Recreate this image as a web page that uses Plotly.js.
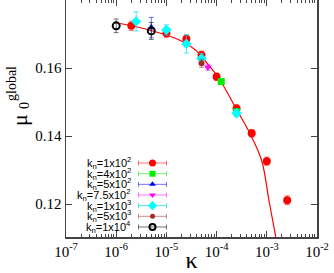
<!DOCTYPE html>
<html>
<head>
<meta charset="utf-8">
<script src="https://cdn.plot.ly/plotly-3.0.1.min.js"></script>
<style>html,body{margin:0;padding:0;background:#fff;}#chart{width:334px;height:273px;}</style>
</head>
<body>
<div id="chart"></div>
<script>
// ---- data ----
const xTickVals = [1e-7, 1e-6, 1e-5, 1e-4, 1e-3, 1e-2];
const xTickText = ['10<sup>-7</sup>', '10<sup>-6</sup>', '10<sup>-5</sup>', '10<sup>-4</sup>', '10<sup>-3</sup>', '10<sup>-2</sup>'];
const yTickVals = [0.12, 0.14, 0.16, 0.18];
const yTickText = ['0.12', '0.14', '0.16', '0.18'];

const fitKappa = [9.55e-7, 3.02e-6, 1.51e-5, 3.8e-5, 6.92e-5, 1.10e-4, 1.74e-4, 2.40e-4, 4.57e-4, 7.94e-4, 1.10e-3, 1.51e-3];
const fitMu    = [0.1733, 0.17185, 0.16874, 0.16529, 0.16088, 0.15706, 0.15206, 0.14824, 0.14088, 0.13265, 0.12118, 0.11029];

const kappa_1e2 = [2e-6, 1e-5, 2.5e-5, 5e-5, 1e-4, 2.5e-4, 5e-4, 1e-3, 2.55e-3];
const mu_1e2    = [0.1724, 0.1702, 0.1685, 0.1638, 0.1574, 0.1481, 0.1408, 0.1326, 0.1211];
const err_1e2   = [0.0014, 0.0012, 0.0012, 0.0012, 0.0011, 0.0011, 0.0011, 0.0012, 0.0013];

const kappa_4e2 = [1.24e-4, 2.5e-4];
const mu_4e2    = [0.1560, 0.1471];
const err_4e2   = [0.0009, 0.0009];

const kappa_5e2 = [5e-6];
const mu_5e2    = [0.1719];
const err_5e2   = [0.0030];

const kappa_75e2 = [6.7e-5];
const mu_75e2    = [0.1602];
const err_75e2   = [0.0009];

const kappa_1e3 = [2.5e-6, 1e-5, 2.5e-5, 5e-5, 2.5e-4];
const mu_1e3    = [0.1737, 0.1712, 0.1671, 0.1628, 0.1467];
const err_1e3   = [0.0028, 0.0015, 0.0027, 0.0015, 0.0010];

const kappa_5e3 = [5e-5];
const mu_5e3    = [0.1614];
const err_5e3   = [0.0012];

const kappa_1e4 = [1e-6, 5e-6];
const mu_1e4    = [0.1724, 0.1709];
const err_1e4   = [0.0020, 0.0025];

const legendLabels = [
  'k<sub>n</sub>=1x10<sup>2</sup>',
  'k<sub>n</sub>=4x10<sup>2</sup>',
  'k<sub>n</sub>=5x10<sup>2</sup>',
  'k<sub>n</sub>=7.5x10<sup>2</sup>',
  'k<sub>n</sub>=1x10<sup>3</sup>',
  'k<sub>n</sub>=5x10<sup>3</sup>',
  'k<sub>n</sub>=1x10<sup>4</sup>'
];

// ---- styles ----
const series = [
  {x: kappa_1e2, y: mu_1e2, e: err_1e2, color: '#ff0000', ecol: 'rgba(255,0,0,0.55)', symbol: 'circle', size: 8, lw: 0},
  {x: kappa_4e2, y: mu_4e2, e: err_4e2, color: '#00ee00', ecol: 'rgba(0,220,0,0.55)', symbol: 'square', size: 7, lw: 0},
  {x: kappa_5e2, y: mu_5e2, e: err_5e2, color: '#0000ff', ecol: 'rgba(0,0,255,0.55)', symbol: 'triangle-up', size: 7, lw: 0},
  {x: kappa_75e2, y: mu_75e2, e: err_75e2, color: '#ff00ff', ecol: 'rgba(255,0,255,0.55)', symbol: 'triangle-down', size: 7, lw: 0},
  {x: kappa_1e3, y: mu_1e3, e: err_1e3, color: '#00ffff', ecol: 'rgba(0,220,230,0.7)', symbol: 'diamond', size: 8, lw: 0},
  {x: kappa_5e3, y: mu_5e3, e: err_5e3, color: '#a52a2a', ecol: 'rgba(165,42,42,0.55)', symbol: 'circle', size: 6, lw: 0},
  {x: kappa_1e4, y: mu_1e4, e: err_1e4, color: '#000000', ecol: 'rgba(0,0,0,0.55)', symbol: 'circle-open', size: 7, lw: 2}
];

const traces = [];
traces.push({
  x: fitKappa, y: fitMu, type: 'scatter', mode: 'lines',
  line: {color: '#ff0000', width: 1.2, shape: 'spline'},
  showlegend: false, hoverinfo: 'skip'
});
series.forEach(function (s) {
  traces.push({
    x: s.x, y: s.y, type: 'scatter', mode: 'markers',
    marker: {color: s.color, symbol: s.symbol, size: s.size, line: {color: s.color, width: s.lw}},
    error_y: {type: 'data', array: s.e, visible: true, color: s.ecol, thickness: 1, width: 2.5},
    showlegend: false
  });
});
// legend keys, one row per series (index -> row) on an auxiliary axis
series.forEach(function (s, i) {
  traces.push({
    x: [0], y: [i], xaxis: 'x2', yaxis: 'y2', type: 'scatter', mode: 'markers',
    marker: {color: s.color, symbol: s.symbol, size: Math.max(s.size - 1, 5), line: {color: s.color, width: s.lw}},
    error_x: {type: 'constant', value: 0.9, visible: true, color: s.ecol, thickness: 1, width: 2.5},
    showlegend: false, hoverinfo: 'skip', cliponaxis: false
  });
});

const L = 66, R = 17, T = 0, B = 36, W = 334, H = 273;
const pw = W - L - R, ph = H - T - B;
const px = function (x) { return (x - L) / pw; };
const py = function (y) { return (H - B - y) / ph; };

const annotations = legendLabels.map(function (t, i) {
  return {text: t, xref: 'paper', yref: 'y2', x: px(133), y: i, xanchor: 'right', yanchor: 'middle',
          showarrow: false, font: {family: 'Liberation Sans, Arial, sans-serif', size: 11, color: '#000'}};
});
annotations.push({text: 'μ', xref: 'paper', yref: 'paper', x: px(19), y: py(120), textangle: -90,
  xanchor: 'center', yanchor: 'middle', showarrow: false,
  font: {family: 'Liberation Serif, Times New Roman, serif', size: 22, color: '#000'}});
annotations.push({text: '0', xref: 'paper', yref: 'paper', x: px(24), y: py(106), textangle: -90,
  xanchor: 'center', yanchor: 'middle', showarrow: false,
  font: {family: 'Liberation Serif, Times New Roman, serif', size: 14, color: '#000'}});
annotations.push({text: 'global', xref: 'paper', yref: 'paper', x: px(11), y: py(84), textangle: -90,
  xanchor: 'center', yanchor: 'middle', showarrow: false,
  font: {family: 'Liberation Serif, Times New Roman, serif', size: 14, color: '#000'}});

const axisFont = {family: 'Liberation Serif, Times New Roman, serif', size: 15, color: '#000'};
const layout = {
  width: W, height: H,
  margin: {l: L, r: R, t: T, b: B, pad: 0},
  paper_bgcolor: '#fff', plot_bgcolor: '#fff',
  showlegend: false,
  xaxis: {
    type: 'log', range: [-7, -2], tickmode: 'array', tickvals: xTickVals, ticktext: xTickText,
    ticks: 'inside', ticklen: 6, tickcolor: '#444', showline: true, linecolor: '#444', linewidth: 1.5,
    mirror: 'ticks', showgrid: false, zeroline: false, tickfont: axisFont,
    minor: {ticks: 'inside', ticklen: 3, tickcolor: '#444', dtick: 'D1', showgrid: false},
    title: {text: 'κ', font: {family: 'Liberation Serif, Times New Roman, serif', size: 24, color: '#000'}, standoff: 2}
  },
  yaxis: {
    range: [0.1103, 0.18], tickmode: 'array', tickvals: yTickVals, ticktext: yTickText,
    ticks: 'inside', ticklen: 6, tickcolor: '#444', showline: true, linecolor: '#444', linewidth: 1.5,
    mirror: 'ticks', showgrid: false, zeroline: false, tickfont: axisFont
  },
  xaxis2: {domain: [px(137), px(168)], range: [-1, 1], visible: false, fixedrange: true},
  yaxis2: {domain: [py(232.3), py(157.7)], range: [6.5, -0.5], visible: false, fixedrange: true},
  annotations: annotations
};

Plotly.newPlot('chart', traces, layout, {displayModeBar: false, staticPlot: true});
</script>
</body>
</html>
